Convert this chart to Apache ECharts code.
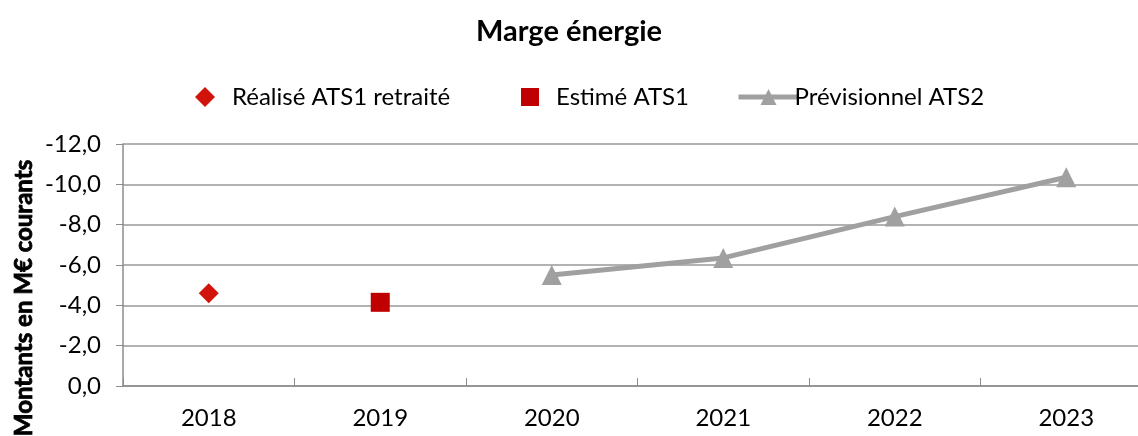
<!DOCTYPE html>
<html>
<head>
<meta charset="utf-8">
<script src="https://cdn.jsdelivr.net/npm/echarts@6/dist/echarts.min.js"></script>
<style>
  html, body { margin: 0; padding: 0; background: #fff; }
  #chart { width: 1138px; height: 436px; }
</style>
</head>
<body>
<div id="chart"></div>
<script>
const years = ['2018', '2019', '2020', '2021', '2022', '2023']
const realise = [-4.6, null, null, null, null, null]
const estime = [null, -4.15, null, null, null, null]
const previsionnel = [null, null, -5.5, -6.35, -8.4, -10.35]
const yTicks = { min: -12, max: 0, step: 2 }

const font = 'Lato, "Open Sans", sans-serif'
const chart = echarts.init(document.getElementById('chart'))

// one legend per entry, so the symbols keep their own size
const legendBase = {
  top: 80,
  textStyle: { fontFamily: font, fontSize: 24, color: '#000' }
}

chart.setOption({
  animation: false,
  title: {
    text: 'Marge énergie',
    left: 'center',
    top: 12,
    textStyle: { fontFamily: font, fontSize: 29, fontWeight: 'bold', color: '#000' }
  },
  legend: [
    Object.assign({}, legendBase, {
      left: 190,
      itemWidth: 20,
      itemHeight: 20,
      textStyle: Object.assign({}, legendBase.textStyle, { padding: [0, 0, 0, 12] }),
      data: ['Réalisé ATS1 retraité']
    }),
    Object.assign({}, legendBase, {
      left: 516,
      itemWidth: 18,
      itemHeight: 18,
      textStyle: Object.assign({}, legendBase.textStyle, { padding: [0, 0, 0, 12] }),
      data: ['Estimé ATS1']
    }),
    Object.assign({}, legendBase, {
      left: 731,
      itemWidth: 60,
      itemHeight: 20,
      lineStyle: { color: '#a0a0a0', width: 5 },
      itemStyle: { color: '#a0a0a0' },
      textStyle: Object.assign({}, legendBase.textStyle, { padding: [0, 0, 0, -9] }),
      data: ['Prévisionnel ATS2']
    })
  ],
  grid: {
    left: 123,
    top: 144,
    width: 1029,
    height: 242,
    outerBoundsMode: 'none'
  },
  graphic: [{
    type: 'text',
    x: 24,
    y: 298,
    rotation: Math.PI / 2,
    style: {
      text: 'Montants en M€ courants',
      fontFamily: font,
      fontSize: 24,
      fontWeight: 700,
      fill: '#000',
      stroke: '#000',
      lineWidth: 0.8,
      align: 'center',
      verticalAlign: 'middle'
    }
  }],
  xAxis: {
    type: 'category',
    data: years,
    boundaryGap: true,
    axisLine: { show: true, lineStyle: { color: '#8c8c8c', width: 1.5 } },
    axisTick: { show: true, inside: true, length: 8, lineStyle: { color: '#8c8c8c' } },
    axisLabel: { fontFamily: font, fontSize: 24, color: '#000', margin: 20 }
  },
  yAxis: {
    type: 'value',
    inverse: true,
    min: yTicks.min,
    max: yTicks.max,
    interval: yTicks.step,
    axisLine: { show: true, lineStyle: { color: '#8c8c8c', width: 1.5 } },
    axisTick: { show: true, length: 7, lineStyle: { color: '#8c8c8c' } },
    axisLabel: {
      fontFamily: font, fontSize: 24, color: '#000', margin: 22,
      formatter: v => v.toFixed(1).replace('.', ',')
    },
    splitLine: { show: true, lineStyle: { color: '#999', width: 1.5 } }
  },
  series: [
    {
      name: 'Réalisé ATS1 retraité',
      type: 'scatter',
      data: realise,
      symbol: 'diamond',
      symbolSize: 20,
      itemStyle: { color: '#d0140c', opacity: 1 }
    },
    {
      name: 'Estimé ATS1',
      type: 'scatter',
      data: estime,
      symbol: 'rect',
      symbolSize: 19,
      itemStyle: { color: '#c00000', opacity: 1 }
    },
    {
      name: 'Prévisionnel ATS2',
      type: 'line',
      data: previsionnel,
      symbol: 'triangle',
      symbolSize: 20,
      showAllSymbol: true,
      lineStyle: { color: '#a0a0a0', width: 5 },
      itemStyle: { color: '#a0a0a0' }
    }
  ]
})
</script>
</body>
</html>
